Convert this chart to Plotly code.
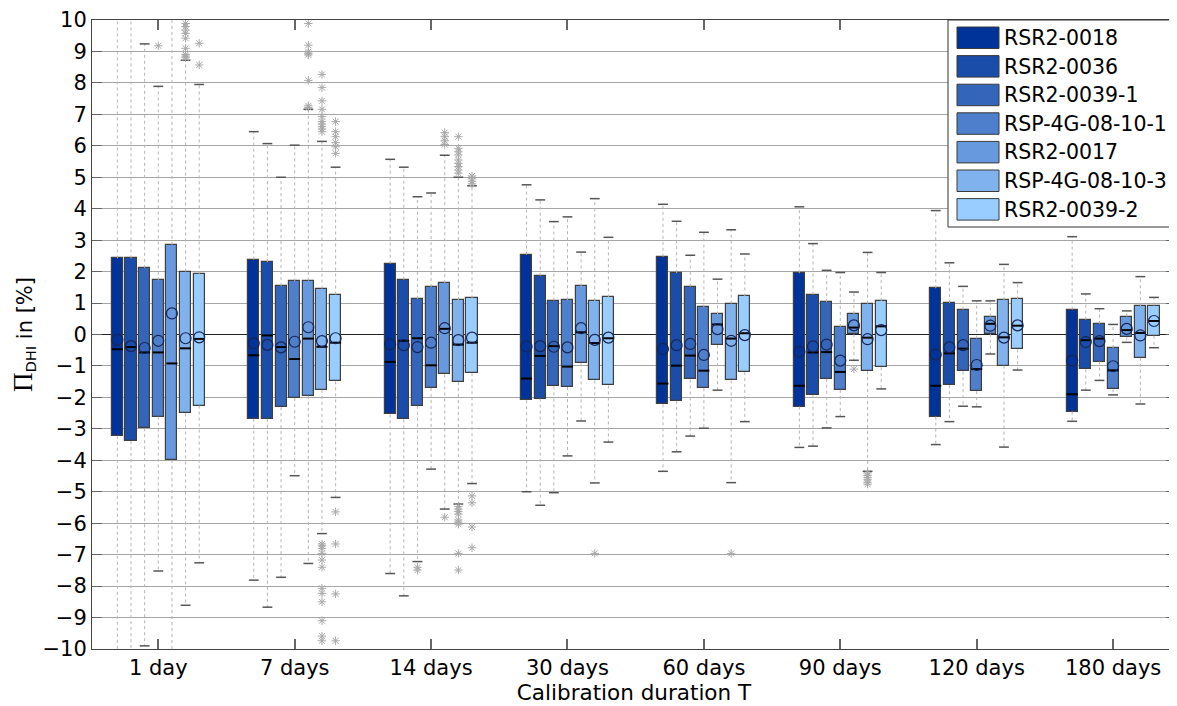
import plotly.graph_objects as go

# ---------------- data ----------------
GROUPS = ["1 day", "7 days", "14 days", "30 days", "60 days", "90 days", "120 days", "180 days"]
SERIES = ["RSR2-0018", "RSR2-0036", "RSR2-0039-1", "RSP-4G-08-10-1",
          "RSR2-0017", "RSP-4G-08-10-3", "RSR2-0039-2"]
COLORS = ["#003399", "#1a4caa", "#3366bb", "#4d7fcc", "#6699dd", "#80b2ee", "#99ccff"]

# upper quartile (box top)
Q3 = [
    [2.42, 2.38, 2.25, 2.54, 2.47, 1.95, 1.47, 0.79],
    [2.42, 2.30, 1.74, 1.87, 1.95, 1.27, 1.00, 0.47],
    [2.12, 1.54, 1.13, 1.08, 1.52, 1.03, 0.79, 0.34],
    [1.72, 1.69, 1.51, 1.09, 0.86, 0.24, -0.13, -0.43],
    [2.85, 1.71, 1.63, 1.53, 0.64, 0.65, 0.57, 0.57],
    [2.00, 1.46, 1.09, 1.06, 0.98, 0.98, 1.09, 0.90],
    [1.91, 1.27, 1.15, 1.18, 1.21, 1.06, 1.12, 0.92],
]
# lower quartile (box bottom)
Q1 = [
    [-3.22, -2.68, -2.54, -2.09, -2.22, -2.29, -2.61, -2.45],
    [-3.39, -2.68, -2.70, -2.04, -2.11, -1.92, -1.61, -1.11],
    [-2.98, -2.31, -2.27, -1.65, -1.43, -1.41, -1.17, -0.86],
    [-2.61, -2.02, -1.70, -1.67, -1.71, -1.76, -1.80, -1.74],
    [-3.99, -1.95, -1.27, -0.92, -0.34, 0.01, 0.02, -0.09],
    [-2.51, -1.76, -1.51, -1.46, -1.46, -1.16, -0.99, -0.74],
    [-2.26, -1.49, -1.23, -1.62, -1.19, -1.04, -0.47, -0.04],
]
MEDIAN = [
    [-0.47, -0.66, -0.87, -1.40, -1.56, -1.63, -1.63, -1.90],
    [-0.40, -0.03, -0.20, -0.68, -0.99, -0.57, -0.60, -0.18],
    [-0.57, -0.40, -0.12, -0.37, -0.67, -0.56, -0.45, -0.13],
    [-0.57, -0.78, -0.98, -1.02, -1.15, -1.19, -1.10, -1.14],
    [-0.92, -0.13, 0.18, 0.07, 0.32, 0.22, 0.34, 0.14],
    [-0.44, -0.39, -0.32, -0.27, -0.13, -0.10, -0.09, 0.05],
    [-0.14, -0.26, -0.26, -0.12, 0.04, 0.26, 0.28, 0.43],
]
MEAN = [
    [-0.17, -0.28, -0.31, -0.38, -0.46, -0.55, -0.64, -0.83],
    [-0.37, -0.33, -0.34, -0.37, -0.34, -0.38, -0.41, -0.24],
    [-0.43, -0.41, -0.40, -0.39, -0.30, -0.32, -0.34, -0.21],
    [-0.20, -0.23, -0.26, -0.41, -0.65, -0.83, -0.97, -1.01],
    [0.67, 0.23, 0.20, 0.20, 0.17, 0.29, 0.28, 0.18],
    [-0.12, -0.21, -0.18, -0.17, -0.20, -0.15, -0.10, -0.03],
    [-0.09, -0.12, -0.10, -0.10, -0.02, 0.14, 0.29, 0.43],
]
WHISKER_HI = [
    [12.0, 6.45, 5.57, 4.76, 4.14, 4.06, 3.94, 3.11],
    [12.0, 6.07, 5.32, 4.28, 3.60, 2.89, 2.28, 1.29],
    [9.24, 5.00, 4.38, 3.59, 2.52, 2.04, 1.53, 0.82],
    [7.89, 6.02, 4.50, 3.74, 3.25, 1.97, 1.07, 0.32],
    [12.0, 7.16, 5.70, 2.62, 1.76, 1.35, 1.07, 0.75],
    [8.72, 6.14, 5.00, 4.32, 3.33, 2.61, 2.23, 1.84],
    [7.95, 5.32, 4.73, 3.09, 2.56, 1.97, 1.65, 1.18],
]
WHISKER_LO = [
    [-12.0, -7.81, -7.60, -5.00, -4.35, -3.59, -3.50, -2.76],
    [-12.0, -8.67, -8.31, -5.43, -3.73, -3.55, -2.77, -1.77],
    [-9.90, -7.72, -7.22, -5.03, -3.23, -2.97, -2.28, -1.46],
    [-7.52, -4.49, -4.28, -3.86, -2.98, -2.61, -2.30, -1.92],
    [-12.0, -7.28, -5.55, -2.75, -1.77, -0.82, -0.62, -0.25],
    [-8.61, -6.33, -5.39, -4.72, -4.71, -4.35, -3.58, -2.21],
    [-7.26, -5.18, -4.74, -3.42, -2.77, -1.73, -1.13, -0.42],
]
# outliers: group index, series index, values
OUTLIER_GROUP = [0, 0, 0, 1, 1, 1, 2, 2, 2, 2, 3, 4, 5, 5]
OUTLIER_SERIES = [3, 5, 6, 4, 5, 6, 2, 4, 5, 6, 5, 5, 4, 5]
OUTLIER_VALUES = [
    [9.18],
    [9.89, 9.79, 9.68, 9.57, 9.42, 9.10, 8.90, 8.85, 8.80],
    [9.26, 8.57],
    [9.89, 9.20, 8.99, 8.94, 8.89, 8.08, 7.27, 7.22],
    [8.27, 7.85, 7.43, 7.16, 6.93, 6.77, 6.69, 6.61, 6.53, 6.45,
     -6.66, -6.72, -6.80, -6.96, -7.17, -7.40, -8.07, -8.23, -8.50, -9.10, -9.59, -9.74],
    [6.77, 6.45, 6.29, 6.10, 5.97, 5.76, -5.64, -6.66, -8.25, -9.74],
    [-7.40, -7.49],
    [6.42, 6.29, 6.16, 6.04, -5.81],
    [6.29, 5.92, 5.81, 5.71, 5.55, 5.44, 5.34, 5.23, 5.13,
     -5.47, -5.55, -5.63, -5.71, -5.90, -5.97, -6.03, -6.96, -7.49],
    [5.04, 4.95, 4.87, 4.79, -5.13, -5.35, -6.12, -6.78],
    [-6.96],
    [-6.96],
    [-1.10],
    [-4.40, -4.48, -4.55, -4.62, -4.70, -4.76],
]

# ---------------- style ----------------
FONT = "DejaVu Sans, Liberation Sans, Arial, sans-serif"
PITCH = 0.1      # spacing between boxes inside a group (x units)
BOX_W = 0.081    # box width (x units)
CAP_HW = 0.036   # half width of whisker caps
OFF = 8          # page body margin of the html page
W, H = 1169, 698
ML, MR, MT, MB = 84, 1, 12, 57
PX_PER_UNIT = 136.4
X0 = 0.514
X1 = X0 + (W - ML - MR) / PX_PER_UNIT

def xpos(g, s):
    return (g + 1) + (s - 3) * PITCH

def segs(xc_list, y_list, hw):
    xs, ys = [], []
    for xc, y in zip(xc_list, y_list):
        xs += [xc - hw, xc + hw, None]
        ys += [y, y, None]
    return xs, ys

fig = go.Figure()
ng = len(GROUPS)

# whiskers (dotted)
for s in range(len(SERIES)):
    xs, ys = [], []
    for g in range(ng):
        xc = xpos(g, s)
        xs += [xc, xc, None, xc, xc, None]
        ys += [Q3[s][g], WHISKER_HI[s][g], None, Q1[s][g], WHISKER_LO[s][g], None]
    fig.add_trace(go.Scatter(x=xs, y=ys, mode="lines", showlegend=False, hoverinfo="skip",
                             line=dict(color="#b4b4b4", width=1, dash="dot")))

# boxes
for s, name in enumerate(SERIES):
    fig.add_trace(go.Bar(
        x=[xpos(g, s) for g in range(ng)],
        base=Q1[s],
        y=[Q3[s][g] - Q1[s][g] for g in range(ng)],
        width=BOX_W, name=name, showlegend=False,
        marker=dict(color=COLORS[s], line=dict(color="#3f3f3f", width=1.2)),
    ))

# caps
for s in range(len(SERIES)):
    xc = [xpos(g, s) for g in range(ng)]
    xs1, ys1 = segs(xc, WHISKER_HI[s], CAP_HW)
    xs2, ys2 = segs(xc, WHISKER_LO[s], CAP_HW)
    fig.add_trace(go.Scatter(x=xs1 + xs2, y=ys1 + ys2, mode="lines", showlegend=False,
                             hoverinfo="skip", line=dict(color="#555555", width=1.5)))

# medians
for s in range(len(SERIES)):
    xc = [xpos(g, s) for g in range(ng)]
    xs, ys = segs(xc, MEDIAN[s], BOX_W / 2)
    fig.add_trace(go.Scatter(x=xs, y=ys, mode="lines", showlegend=False, hoverinfo="skip",
                             line=dict(color="#000000", width=2)))

# means
for s in range(len(SERIES)):
    fig.add_trace(go.Scatter(
        x=[xpos(g, s) for g in range(ng)], y=MEAN[s], mode="markers", showlegend=False,
        marker=dict(symbol="circle-open", size=11, color="#14255a", line=dict(width=1.2)),
    ))

# outliers
ox, oy = [], []
for g, s, vals in zip(OUTLIER_GROUP, OUTLIER_SERIES, OUTLIER_VALUES):
    for v in vals:
        ox.append(xpos(g, s))
        oy.append(v)
fig.add_trace(go.Scatter(x=ox, y=oy, mode="markers", showlegend=False, cliponaxis=True,
                         marker=dict(symbol="asterisk-open", size=7, color="#a8a8a8",
                                     line=dict(width=1, color="#a8a8a8"))))

# ---------------- custom legend (positions in page pixels) ----------------
pw = W - ML - MR
ph = H - MT - MB
def px_x(px):
    return (px - OFF - ML) / pw
def px_y(py):
    return 1 - (py - OFF - MT) / ph

shapes = [dict(type="rect", xref="paper", yref="paper",
               x0=px_x(948), x1=1.0, y0=px_y(227), y1=1.0,
               fillcolor="white", line=dict(color="#333333", width=1), layer="above")]
annotations = []
for i, (name, col) in enumerate(zip(SERIES, COLORS)):
    top = 27 + i * 28.6
    shapes.append(dict(type="rect", xref="paper", yref="paper",
                       x0=px_x(957), x1=px_x(999), y0=px_y(top + 21.5), y1=px_y(top),
                       fillcolor=col, line=dict(color="#3a3a3a", width=1), layer="above"))
    annotations.append(dict(xref="paper", yref="paper", x=px_x(1002), y=px_y(top + 11),
                            xanchor="left", yanchor="middle", showarrow=False, text=name,
                            font=dict(family=FONT, size=20.5, color="black")))

fig.update_layout(
    width=W, height=H,
    margin=dict(l=ML, r=MR, t=MT, b=MB),
    plot_bgcolor="white", paper_bgcolor="white",
    barmode="overlay", bargap=0,
    font=dict(family=FONT, size=21, color="black"),
    shapes=shapes, annotations=annotations,
    showlegend=False,
    xaxis=dict(
        range=[X0, X1], tickvals=list(range(1, ng + 1)), ticktext=GROUPS,
        showgrid=False, zeroline=False,
        ticks="inside", ticklen=10, tickcolor="#666666", tickwidth=1.5,
        showline=True, linecolor="#444444", linewidth=1, mirror="ticks",
        tickfont=dict(family=FONT, size=21),
        title=dict(text="Calibration duration T", font=dict(family=FONT, size=21.5), standoff=4),
    ),
    yaxis=dict(
        range=[-10, 10], dtick=1, tick0=0,
        showgrid=True, gridcolor="#a6a6a6", gridwidth=1,
        zeroline=True, zerolinecolor="#222222", zerolinewidth=1,
        ticks="inside", ticklen=10, tickcolor="#666666",
        showline=True, linecolor="#444444", linewidth=1, mirror="ticks",
        tickfont=dict(family=FONT, size=21), ticklabeloverflow="allow",
        title=dict(text="<span style='font-family:Liberation Serif, Times New Roman, serif;font-size:27px'>Π</span><sub>DHI</sub> in [%]",
                   font=dict(family=FONT, size=21), standoff=18),
    ),
)

fig.write_html("out.html")
